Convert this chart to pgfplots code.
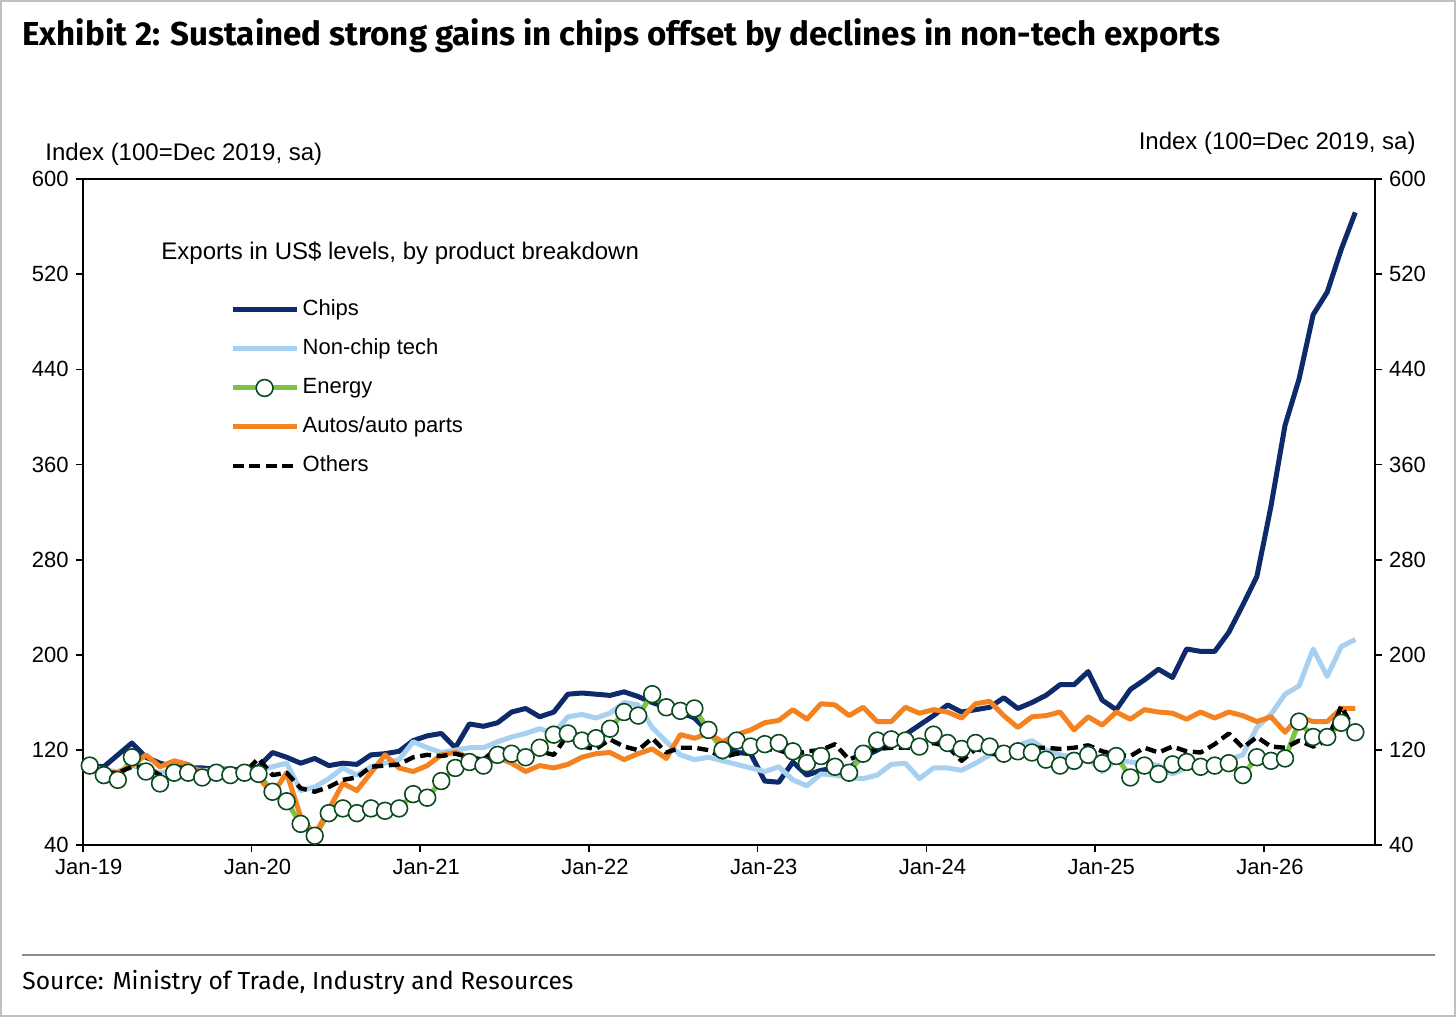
\documentclass[border=0pt]{standalone}
\usepackage{fontspec}
\setmainfont{Liberation Sans}
\newfontfamily\titlefont{Fira Sans}
\usepackage{pgfplots}
\usepackage{pgfplotstable}
\pgfplotsset{compat=1.18}
\definecolor{chips}{HTML}{0D2A6B}
\definecolor{nonchip}{HTML}{A8D0F0}
\definecolor{energy}{HTML}{7DC242}
\definecolor{energyedge}{HTML}{0B4A20}
\definecolor{autos}{HTML}{F58220}
\pgfplotstableread{
i C N E A O
0 107 107 107 107 107
1 106 103 99 101 101
2 116 102 95 101 101
3 126 107 114 107 106
4 114 104 102 116 106
5 109 101 92 106 99
6 106 103 101 111 101
7 105 104 101 108 101
8 105 103 97 100 101
9 104 103 101 106 101
10 104 103 99 101 101
11 103 103 101 101 101
12 106 103 100 97 113
13 118 106 85 83 99
14 114 109 77 101 101
15 109 86 58 64 88
16 113 89 48 49 85
17 107 96 67 70 89
18 109 105 71 92 95
19 108 99 67 86 97
20 116 106 71 101 106
21 117 109 69 116 107
22 119 112 71 105 108
23 128 127 83 102 114
24 132 122 80 107 116
25 134 118 94 116 115
26 122 120 105 118 117
27 142 122 110 114 114
28 140 122 107 106 112
29 143 127 116 114 122
30 152 131 117 109 118
31 155 134 114 102 117
32 148 138 122 107 119
33 152 134 133 105 116
34 167 148 134 108 133
35 168 150 128 114 123
36 167 147 130 117 121
37 166 151 138 118 129
38 169 160 152 112 123
39 165 158 149 117 120
40 160 139 167 121 130
41 156 127 156 113 118
42 152 116 153 133 122
43 147 112 155 130 122
44 135 114 137 134 120
45 123 111 120 127 114
46 118 108 128 133 117
47 117 105 123 137 118
48 94 102 125 143 121
49 93 106 126 145 120
50 110 95 119 154 116
51 99 90 109 146 119
52 103 100 115 159 120
53 105 99 106 158 125
54 105 97 101 149 112
55 114 96 117 156 117
56 120 99 128 144 121
57 126 108 129 144 122
58 133 109 128 156 122
59 141 96 123 151 122
60 149 105 133 154 126
61 158 105 126 152 123
62 152 103 121 147 111
63 154 109 126 159 121
64 156 116 123 161 118
65 164 120 117 149 114
66 155 124 119 139 117
67 160 128 118 148 122
68 166 120 112 149 122
69 175 116 107 152 121
70 175 114 111 137 122
71 186 113 116 148 124
72 162 102 109 141 119
73 154 112 115 152 116
74 171 110 97 146 115
75 179 109 107 154 122
76 188 107 100 152 118
77 181 100 108 151 123
78 205 105 110 146 119
79 203 107 106 152 118
80 203 109 107 147 125
81 219 112 109 152 134
82 242 116 99 149 122
83 266 139 114 144 131
84 325 150 111 148 123
85 393 167 113 135 122
86 432 174 144 148 128
87 486 205 131 144 123
88 505 182 131 144 128
89 541 207 143 155 157
90 572 213 135 155 135
}\datatable
\begin{document}
\begin{tikzpicture}[x=1bp,y=1bp]
\path[use as bounding box] (0,0) rectangle (728,508.5);
\draw[black!25, line width=1bp] (0.5,0.5) rectangle (727.5,508);
\node[anchor=base west, inner sep=0pt] at (11,485.5) {\resizebox{599bp}{!}{\titlefont\bfseries Exhibit 2: Sustained strong gains in chips offset by declines in non-tech exports}};
\draw[black!45, line width=0.8bp] (11,31) -- (717.5,31);
\node[anchor=base west, inner sep=0pt] at (11,13.5) {\resizebox{275.5bp}{!}{\titlefont Source: Ministry of Trade, Industry and Resources}};
\node[anchor=base west, inner sep=0pt, font=\fontsize{12bp}{14bp}\selectfont] at (22.5,428) {Index (100=Dec 2019, sa)};
\node[anchor=base east, inner sep=0pt, font=\fontsize{12bp}{14bp}\selectfont] at (708,433.5) {Index (100=Dec 2019, sa)};
\node[anchor=base west, inner sep=0pt, font=\fontsize{12bp}{14bp}\selectfont] at (80.5,378.7) {Exports in US\$ levels, by product breakdown};
\begin{axis}[
  at={(41.35bp,85.85bp)}, anchor=south west,
  scale only axis, width=646.15bp, height=333.1bp,
  xmin=-0.5, xmax=91.4, ymin=40, ymax=600,
  ytick={40,120,...,600},
  xtick={-0.5,11.5,23.5,35.5,47.5,59.5,71.5,83.5},
  xticklabels={Jan-19,Jan-20,Jan-21,Jan-22,Jan-23,Jan-24,Jan-25,Jan-26},
  xticklabel style={xshift=3.0bp},
  tick align=outside, xtick pos=bottom, ytick pos=left,
  major tick length=3.5bp,
  tick style={black, line width=0.8bp},
  axis line style={black, line width=0.8bp},
  ticklabel style={font=\fontsize{11bp}{13bp}\selectfont},
  /pgf/number format/assume math mode=true,
  legend style={draw=none, fill=none, at={(axis description cs:0,1)}, anchor=north west,
    xshift=73.5bp, yshift=-60bp, font=\fontsize{11bp}{13bp}\selectfont,
    row sep=9bp, column sep=1.8bp, inner sep=0pt,
    nodes={inner sep=0pt, text height=8bp, text depth=2.5bp}},
  legend cell align=left,
  legend image code/.code={\draw[mark repeat=2,mark phase=2] plot coordinates {(0bp,0bp) (16bp,0bp) (32bp,0bp)};},
  every axis plot/.append style={line join=round},
]
\addplot[chips, line width=2.5bp, no marks] table[x=i, y=C] {\datatable};
\addlegendentry{Chips}
\addplot[nonchip, line width=2.5bp, no marks] table[x=i, y=N] {\datatable};
\addlegendentry{Non-chip tech}
\addplot[energy, line width=2.5bp, mark=*, mark size=4.2bp, mark options={fill=white, draw=energyedge, line width=0.8bp, solid}] table[x=i, y=E] {\datatable};
\addlegendentry{Energy}
\addplot[autos, line width=2.5bp, no marks] table[x=i, y=A] {\datatable};
\addlegendentry{Autos/auto parts}
\addplot[black, line width=2.2bp, dash pattern=on 5.5bp off 2.8bp, no marks] table[x=i, y=O] {\datatable};
\addlegendentry{Others}
\end{axis}
\begin{axis}[
  at={(41.35bp,85.85bp)}, anchor=south west,
  scale only axis, width=646.15bp, height=333.1bp,
  xmin=-0.5, xmax=91.4, ymin=40, ymax=600,
  ytick={40,120,...,600},
  axis x line=none, axis y line*=right,
  tick align=outside, ytick pos=right, yticklabel pos=right,
  major tick length=3.5bp,
  tick style={black, line width=0.8bp},
  axis line style={black, line width=0.8bp, -},
  ticklabel style={font=\fontsize{11bp}{13bp}\selectfont},
  /pgf/number format/assume math mode=true,
]
\end{axis}
\end{tikzpicture}
\end{document}
